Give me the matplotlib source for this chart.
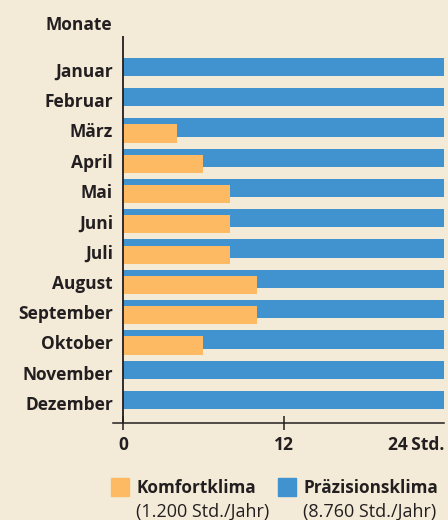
import matplotlib.pyplot as plt
from matplotlib.patches import Rectangle
import numpy as np

plt.rcParams['font.family'] = ['Open Sans', 'DejaVu Sans']

monate = ['Januar', 'Februar', 'März', 'April', 'Mai', 'Juni', 'Juli',
          'August', 'September', 'Oktober', 'November', 'Dezember']
praezision = [24, 24, 24, 24, 24, 24, 24, 24, 24, 24, 24, 24]
komfort = [0, 0, 4, 6, 8, 8, 8, 10, 10, 6, 0, 0]

bg = '#f3ebd8'
blau = '#4193d0'
orange = '#fdba63'
txt = '#231f20'
fs = 12.5

fig = plt.figure(figsize=(4.48, 5.2), dpi=100, facecolor=bg)
ax = fig.add_axes([113/448, 1-423/520, (444-113)/448, (423-36)/520])
ax.set_facecolor(bg)

y = np.arange(len(monate))
ax.barh(y - 0.1, praezision, height=0.6, color=blau, zorder=2)
ax.barh(y + 0.1, komfort, height=0.6, color=orange, zorder=3)

ax.set_xlim(-0.75, 24)
ax.set_ylim(11.66, -1.12)

for s in ['left', 'right', 'top']:
    ax.spines[s].set_visible(False)
ax.spines['bottom'].set_color(txt)
ax.spines['bottom'].set_linewidth(1.1)
ax.axvline(0, color=txt, lw=1.3, zorder=4)

ax.set_yticks(y)
ax.set_yticklabels(monate, fontsize=fs, fontweight='bold', color=txt)
ax.tick_params(axis='y', length=0, pad=0)

ax.set_xticks([0, 12, 24])
ax.set_xticklabels(['0', '12', '24\u2009Std.'], fontsize=fs, fontweight='bold', color=txt)
ax.tick_params(axis='x', direction='inout', length=10, width=1.1, color=txt, pad=4)
ax.get_xticklabels()[2].set_ha('right')
ax.xaxis.get_major_ticks()[2].tick1line.set_visible(False)

fig.text(112/448, 1-25/520, 'Monate', fontsize=fs, fontweight='bold',
         color=txt, ha='right', va='center')

# Legende
fig.add_artist(Rectangle((111/448, 1-496/520), 18/448, 18/520,
                         transform=fig.transFigure, color=orange))
fig.add_artist(Rectangle((278/448, 1-496/520), 18/448, 18/520,
                         transform=fig.transFigure, color=blau))
fig.text(136/448, 1-488/520, 'Komfortklima', fontsize=12.3, fontweight='bold',
         color=txt, va='center')
fig.text(136/448, 1-512/520, '(1.200 Std./Jahr)', fontsize=13, color=txt, va='center')
fig.text(303/448, 1-488/520, 'Präzisionsklima', fontsize=12.3, fontweight='bold',
         color=txt, va='center')
fig.text(303/448, 1-512/520, '(8.760 Std./Jahr)', fontsize=13, color=txt, va='center')

fig.savefig('out.png', dpi=100, facecolor=bg)
